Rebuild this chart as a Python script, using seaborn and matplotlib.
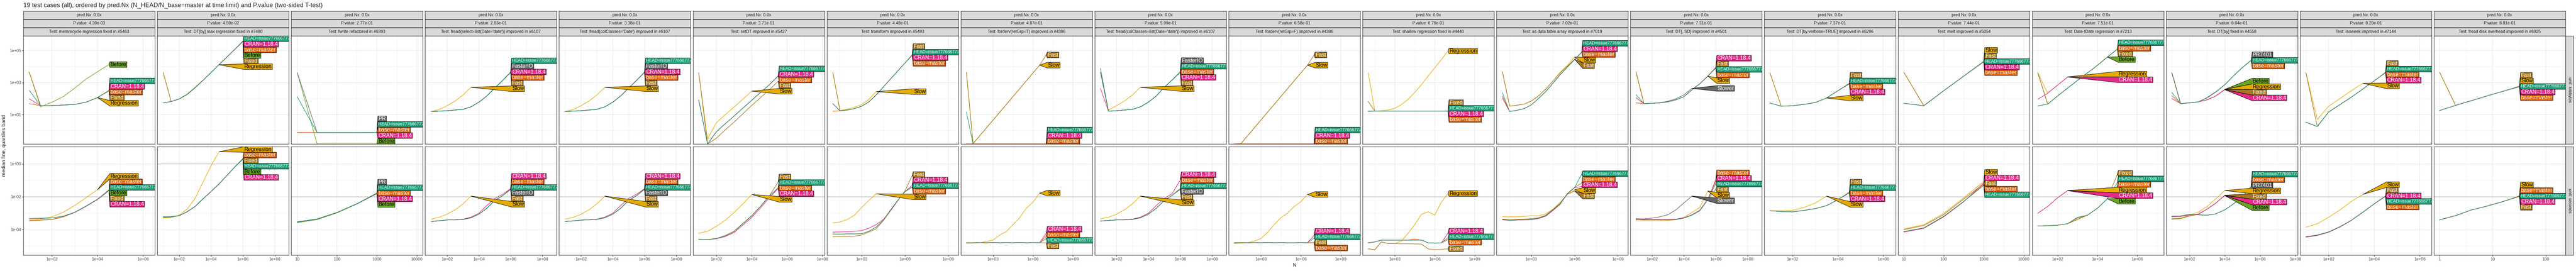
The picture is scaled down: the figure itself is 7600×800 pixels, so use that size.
import math

import matplotlib
matplotlib.use("Agg")
import matplotlib.pyplot as plt
from matplotlib.patches import Polygon
import pandas as pd
import seaborn as sns

ZERO = -math.inf  # log10 of a 0 kB measurement (drawn on the panel edge, like -Inf in ggplot)

H = "HEAD=issue777666777"
B = "base=master"
C = "CRAN=1.18.4"

N_HALF = [1e1, 3.16e1, 1e2, 3.16e2, 1e3, 3.16e3, 1e4, 3.16e4, 1e5, 3.16e5, 1e6, 3.16e6, 1e7]
N_DISK = [1, 2, 4, 8, 16, 32]

tests = [
    "memrecycle regression fixed in #5463",
    "DT[by] max regression fixed in #7480",
    "fwrite refactored in #6393",
    "fread(select=list(Date='date')) improved in #6107",
    "fread(colClasses='Date') improved in #6107",
    "setDT improved in #5427",
    "transform improved in #5493",
    "forderv(retGrp=T) improved in #4386",
    "fread(colClasses=list(Date='date')) improved in #6107",
    "forderv(retGrp=F) improved in #4386",
    "shallow regression fixed in #4440",
    "as.data.table.array improved in #7019",
    "DT[,.SD] improved in #4501",
    "DT[by,verbose=TRUE] improved in #6296",
    "melt improved in #5054",
    "Date-IDate regression in #7213",
    "DT[by] fixed in #4558",
    "isoweek improved in #7144",
    "fread disk overhead improved in #6925",
]
p_values = [4.39e-03, 4.59e-02, 2.77e-01, 2.83e-01, 3.38e-01, 3.71e-01, 4.48e-01,
            4.87e-01, 5.99e-01, 6.58e-01, 6.76e-01, 7.02e-01, 7.31e-01, 7.37e-01,
            7.44e-01, 7.51e-01, 8.04e-01, 8.20e-01, 8.81e-01]
pred_nx = [0.0] * 19
seconds_limit = [0.01, 1.0] + [0.01] * 17

# median values, log10(kilobytes) and log10(seconds), one entry per N
p01_kb = {
    "Before": [3.65, 1.48, 1.77, 2.12, 2.65, 3.22, 3.67, 4.12],
    "Regression": [3.65, 1.54, 1.56, 1.59, 1.63, 1.77, 2.06],
    "Fixed": [3.65, 1.55, 1.56, 1.59, 1.63, 1.77, 2.06, 2.47],
    B: [1.68, 1.55, 1.56, 1.59, 1.63, 1.77, 2.06, 2.48],
    C: [1.98, 1.55, 1.56, 1.59, 1.63, 1.77, 2.06, 2.49],
    H: [2.51, 1.55, 1.56, 1.59, 1.63, 1.77, 2.06, 2.50],
}
p01_sec = {
    "Before": [-3.46, -3.42, -3.38, -3.22, -2.95, -2.56, -2.15, -1.61],
    "Regression": [-3.39, -3.35, -3.22, -2.94, -2.53, -2.05, -1.57],
    "Fixed": [-3.46, -3.42, -3.38, -3.22, -2.95, -2.57, -2.16, -1.62],
    B: [-3.46, -3.42, -3.38, -3.22, -2.95, -2.57, -2.15, -1.58],
    C: [-3.32, -3.31, -3.29, -3.18, -2.96, -2.58, -2.17, -1.63],
    H: [-3.32, -3.31, -3.29, -3.18, -2.94, -2.56, -2.15, -1.60],
}
p02_kb = {
    "Regression": [3.62, 1.81, 1.97, 2.25, 2.67, 3.14, 3.62, 4.11],
    "Fixed": [3.62, 1.81, 1.97, 2.25, 2.67, 3.14, 3.62, 4.11, 4.59, 5.08, 5.55],
    "Before": [1.73, 1.81, 1.98, 2.27, 2.70, 3.15, 3.62, 4.11, 4.59, 5.08, 5.56],
    B: [1.73, 1.81, 1.97, 2.25, 2.67, 3.14, 3.62, 4.11, 4.59, 5.08, 5.57],
    C: [1.73, 1.81, 1.97, 2.25, 2.67, 3.14, 3.62, 4.11, 4.59, 5.08, 5.58],
    H: [1.73, 1.81, 1.97, 2.25, 2.67, 3.14, 3.62, 4.11, 4.59, 5.08, 5.59],
}
p02_sec = {
    "Regression": [-3.30, -3.26, -3.12, -2.75, -2.10, -1.11, -0.12, 0.74],
    "Before": [-3.26, -3.24, -3.16, -2.91, -2.59, -2.12, -1.68, -1.22, -0.70, -0.17, 0.29],
    "Fixed": [-3.24, -3.22, -3.15, -2.91, -2.59, -2.12, -1.68, -1.22, -0.70, -0.17, 0.31],
    B: [-3.22, -3.21, -3.15, -2.91, -2.59, -2.12, -1.68, -1.22, -0.70, -0.17, 0.33],
    C: [-3.22, -3.21, -3.15, -2.92, -2.60, -2.13, -1.69, -1.23, -0.71, -0.18, 0.28],
    H: [-3.22, -3.21, -3.15, -2.91, -2.59, -2.12, -1.68, -1.22, -0.70, -0.17, 0.30],
}
p03_kb = {
    "Before": [3.62, ZERO, ZERO, ZERO, ZERO],
    C: [-0.13, -0.13, -0.13, -0.13, -0.127],
    B: [-0.13, -0.13, -0.13, -0.13, -0.126],
    "PR": [3.62, -0.13, -0.13, -0.13, -0.124],
    H: [2.11, -0.13, -0.13, -0.13, -0.125],
}
p03_sec = {
    "Before": [-3.58, -3.39, -2.98, -2.44, -1.81],
    C: [-3.54, -3.36, -2.96, -2.43, -1.80],
    B: [-3.54, -3.36, -2.96, -2.43, -1.79],
    "PR": [-3.52, -3.35, -2.95, -2.42, -1.77],
    H: [-3.54, -3.36, -2.96, -2.43, -1.78],
}
p04_kb = {
    "Slow": [1.19, 1.32, 1.55, 1.84, 2.22, 2.70],
    "Fast": [1.19, 1.21, 1.24, 1.28, 1.32, 1.48, 1.77, 2.16, 2.65, 3.13, 3.62],
    B: [1.19, 1.21, 1.24, 1.28, 1.32, 1.48, 1.77, 2.16, 2.65, 3.13, 3.63],
    C: [1.19, 1.21, 1.24, 1.28, 1.32, 1.48, 1.77, 2.16, 2.65, 3.13, 3.64],
    "FasterIO": [1.19, 1.21, 1.24, 1.28, 1.32, 1.48, 1.77, 2.16, 2.65, 3.13, 3.65],
    H: [1.19, 1.21, 1.24, 1.28, 1.32, 1.48, 1.77, 2.16, 2.65, 3.13, 3.66],
}
p04_sec = {
    "Slow": [-3.36, -3.25, -3.06, -2.80, -2.43, -1.96],
    "Fast": [-3.51, -3.46, -3.41, -3.40, -3.38, -3.28, -3.06, -2.70, -2.22, -1.93, -1.56],
    "FasterIO": [-3.51, -3.46, -3.41, -3.40, -3.38, -3.28, -3.06, -2.70, -2.22, -1.93, -1.55],
    B: [-3.51, -3.46, -3.41, -3.40, -3.38, -3.28, -3.06, -2.70, -2.22, -1.93, -1.52],
    C: [-3.51, -3.46, -3.41, -3.40, -3.36, -3.24, -3.00, -2.53, -2.10, -1.85, -1.50],
    H: [-3.51, -3.46, -3.41, -3.40, -3.38, -3.28, -3.06, -2.70, -2.22, -1.93, -1.54],
}
p05_kb = {
    "Slow": [1.19, 1.31, 1.55, 1.84, 2.22, 2.70],
    "Fast": [1.19, 1.21, 1.24, 1.28, 1.32, 1.48, 1.77, 2.16, 2.65, 3.13, 3.62],
    B: [1.19, 1.21, 1.24, 1.28, 1.32, 1.48, 1.77, 2.16, 2.65, 3.13, 3.63],
    C: [1.19, 1.21, 1.24, 1.28, 1.32, 1.48, 1.77, 2.16, 2.65, 3.13, 3.64],
    "FasterIO": [1.19, 1.21, 1.24, 1.28, 1.32, 1.48, 1.77, 2.16, 2.65, 3.13, 3.65],
    H: [1.19, 1.21, 1.24, 1.28, 1.32, 1.48, 1.77, 2.16, 2.65, 3.13, 3.66],
}
p05_sec = {
    "Slow": [-3.36, -3.26, -3.07, -2.80, -2.43, -1.96],
    "Fast": [-3.51, -3.47, -3.42, -3.40, -3.38, -3.28, -3.06, -2.70, -2.22, -1.93, -1.56],
    "FasterIO": [-3.51, -3.47, -3.42, -3.40, -3.38, -3.28, -3.06, -2.70, -2.22, -1.93, -1.55],
    B: [-3.51, -3.47, -3.42, -3.40, -3.38, -3.28, -3.06, -2.70, -2.22, -1.93, -1.52],
    C: [-3.51, -3.47, -3.42, -3.40, -3.36, -3.24, -3.00, -2.53, -2.10, -1.85, -1.50],
    H: [-3.51, -3.47, -3.42, -3.40, -3.38, -3.28, -3.06, -2.70, -2.22, -1.93, -1.54],
}
p06_kb = {
    "Slow": [3.62, -0.53, 0.50, 0.98, 1.47, 1.96, 2.46],
    "Fast": [3.62, ZERO, -0.48, 0.04, 0.52, 1.05, 1.57, 2.06, 2.55, 3.08],
    B: [1.91, ZERO, -0.07, 0.42, 0.90, 1.40, 1.89, 2.38, 2.86, 3.40],
    C: [1.91, ZERO, -0.07, 0.42, 0.90, 1.40, 1.89, 2.38, 2.86, 3.41],
    H: [1.91, ZERO, -0.07, 0.42, 0.90, 1.40, 1.89, 2.38, 2.86, 3.42],
}
p06_sec = {
    "Slow": [-4.22, -4.10, -3.80, -3.43, -2.96, -2.43, -1.86],
    "Fast": [-4.59, -4.60, -4.54, -4.36, -4.10, -3.62, -3.15, -2.57, -1.94, -1.10],
    C: [-4.59, -4.61, -4.56, -4.42, -4.18, -3.72, -3.26, -2.68, -2.05, -1.50],
    B: [-4.59, -4.61, -4.54, -4.38, -4.12, -3.64, -3.17, -2.59, -1.96, -1.47],
    H: [-4.59, -4.61, -4.54, -4.38, -4.12, -3.64, -3.17, -2.59, -1.96, -1.45],
}
p07_kb = {
    "Slow": [3.64, 1.25, 1.33, 1.46, 1.62, 1.95, 2.43],
    "Fast": [3.64, 1.23, 1.28, 1.37, 1.52, 1.79, 2.22, 2.72, 3.22, 3.72, 4.22, 4.74],
    B: [1.20, 1.23, 1.28, 1.37, 1.52, 1.79, 2.22, 2.72, 3.22, 3.72, 4.22, 4.70],
    C: [1.68, 1.23, 1.28, 1.37, 1.52, 1.79, 2.22, 2.72, 3.22, 3.72, 4.22, 4.71],
    H: [1.68, 1.23, 1.28, 1.37, 1.52, 1.79, 2.22, 2.72, 3.22, 3.72, 4.22, 4.73],
}
p07_sec = {
    "Slow": [-3.59, -3.54, -3.38, -3.12, -2.65, -2.22, -1.82],
    "Fast": [-4.43, -4.43, -4.43, -4.40, -4.33, -4.15, -3.95, -3.45, -2.85, -2.25, -1.64, -0.70],
    C: [-4.15, -4.14, -4.13, -4.10, -4.06, -3.91, -3.70, -3.38, -2.85, -2.22, -1.69, -1.30],
    B: [-4.27, -4.27, -4.26, -4.26, -4.25, -4.10, -3.85, -3.43, -2.80, -2.22, -1.69, -1.42],
    H: [-4.27, -4.27, -4.26, -4.26, -4.25, -4.10, -3.85, -3.43, -2.80, -2.22, -1.69, -1.40],
}
p08_kb = {
    "Slow": [3.64, -0.82, -0.33, 0.16, 0.65, 1.14, 1.63, 2.12, 2.61, 3.10, 3.59, 4.08],
    "Fast": [3.64, -0.82, -0.33, 0.16, 0.65, 1.14, 1.63, 2.12, 2.61, 3.10, 3.59, 4.08, 4.72],
    H: [1.16, ZERO, ZERO, ZERO, ZERO, ZERO, ZERO, ZERO, ZERO, ZERO, ZERO, ZERO, ZERO],
    C: [ZERO, ZERO, ZERO, ZERO, ZERO, ZERO, ZERO, ZERO, ZERO, ZERO, ZERO, ZERO, ZERO],
    B: [ZERO, ZERO, ZERO, ZERO, ZERO, ZERO, ZERO, ZERO, ZERO, ZERO, ZERO, ZERO, ZERO],
}
p08_sec = {
    "Slow": [-4.83, -4.82, -4.80, -4.72, -4.64, -4.33, -4.12, -3.70, -3.28, -2.70, -2.33, -1.78],
    "Fast": [-4.80, -4.80, -4.79, -4.80, -4.78, -4.80, -4.79, -4.80, -4.78, -4.80, -4.79, -4.80, -4.80],
    B: [-4.80, -4.80, -4.79, -4.80, -4.78, -4.80, -4.79, -4.80, -4.78, -4.80, -4.79, -4.80, -4.38],
    C: [-4.80, -4.80, -4.79, -4.80, -4.78, -4.80, -4.79, -4.80, -4.78, -4.80, -4.79, -4.80, -4.22],
    H: [-4.80, -4.80, -4.79, -4.80, -4.78, -4.80, -4.79, -4.80, -4.78, -4.80, -4.79, -4.80, -4.54],
}
p09_kb = {
    "Slow": [3.64, 1.28, 1.55, 1.84, 2.22, 2.70],
    "Fast": [3.64, 1.21, 1.24, 1.28, 1.32, 1.48, 1.77, 2.16, 2.70, 3.16, 3.63],
    C: [2.63, 1.21, 1.24, 1.28, 1.32, 1.48, 1.77, 2.16, 2.70, 3.16, 3.64],
    B: [3.64, 1.21, 1.24, 1.28, 1.32, 1.48, 1.77, 2.16, 2.70, 3.16, 3.65],
    "FasterIO": [3.87, 1.21, 1.24, 1.28, 1.32, 1.48, 1.77, 2.16, 2.70, 3.16, 3.67],
    H: [3.64, 1.21, 1.24, 1.28, 1.32, 1.48, 1.77, 2.16, 2.70, 3.16, 3.66],
}
p09_sec = {
    "Slow": [-3.34, -3.25, -3.06, -2.80, -2.43, -1.96],
    "Fast": [-3.48, -3.44, -3.41, -3.40, -3.38, -3.28, -3.06, -2.70, -2.22, -1.90, -1.56],
    "FasterIO": [-3.48, -3.44, -3.41, -3.40, -3.38, -3.28, -3.06, -2.70, -2.22, -1.90, -1.54],
    B: [-3.48, -3.44, -3.41, -3.40, -3.38, -3.28, -3.06, -2.70, -2.22, -1.90, -1.50],
    C: [-3.48, -3.44, -3.41, -3.39, -3.36, -3.24, -3.00, -2.53, -2.10, -1.80, -0.98],
    H: [-3.48, -3.44, -3.41, -3.40, -3.38, -3.28, -3.06, -2.70, -2.22, -1.90, -1.52],
}
p10_kb = {
    "Slow": [ZERO, -0.82, -0.33, 0.16, 0.65, 1.14, 1.63, 2.12, 2.61, 3.10, 3.59, 4.08],
    "Fast": [ZERO, -0.82, -0.33, 0.16, 0.65, 1.14, 1.63, 2.12, 2.61, 3.10, 3.59, 4.08, 4.72],
    H: [ZERO, ZERO, ZERO, ZERO, ZERO, ZERO, ZERO, ZERO, ZERO, ZERO, ZERO, ZERO, ZERO],
    C: [ZERO, ZERO, ZERO, ZERO, ZERO, ZERO, ZERO, ZERO, ZERO, ZERO, ZERO, ZERO, ZERO],
    B: [ZERO, ZERO, ZERO, ZERO, ZERO, ZERO, ZERO, ZERO, ZERO, ZERO, ZERO, ZERO, ZERO],
}
p10_sec = {
    "Slow": [-4.85, -4.83, -4.80, -4.70, -4.54, -4.17, -3.70, -3.28, -3.00, -2.60, -2.30, -1.86],
    "Fast": [-4.80, -4.79, -4.80, -4.79, -4.80, -4.78, -4.80, -4.79, -4.80, -4.80, -4.79, -4.80, -4.79],
    B: [-4.80, -4.79, -4.80, -4.79, -4.80, -4.78, -4.80, -4.79, -4.80, -4.80, -4.79, -4.80, -4.80],
    C: [-4.80, -4.79, -4.80, -4.79, -4.80, -4.78, -4.80, -4.79, -4.80, -4.80, -4.79, -4.80, -4.35],
    H: [-4.80, -4.79, -4.80, -4.79, -4.80, -4.78, -4.80, -4.79, -4.80, -4.80, -4.79, -4.80, -4.51],
}
p11_kb = {
    "Regression": [3.62, 1.21, 1.24, 1.28, 1.39, 1.62, 1.95, 2.38, 2.86, 3.40, 3.92, 4.43, 4.97],
    "Fixed": [1.82, 1.21, 1.21, 1.21, 1.21, 1.21, 1.21, 1.21, 1.21, 1.21, 1.21, 1.21, 1.23],
    B: [1.19, 1.21, 1.21, 1.21, 1.21, 1.21, 1.21, 1.21, 1.21, 1.21, 1.21, 1.21, 1.20],
    C: [1.21, 1.21, 1.21, 1.21, 1.21, 1.21, 1.21, 1.21, 1.21, 1.21, 1.21, 1.21, 1.21],
    H: [1.21, 1.21, 1.21, 1.21, 1.21, 1.21, 1.21, 1.21, 1.21, 1.21, 1.21, 1.21, 1.22],
}
p11_sec = {
    "Regression": [-5.17, -5.22, -4.75, -4.85, -4.85, -4.70, -4.22, -3.70, -3.07, -2.91, -3.12, -2.33, -1.80],
    "Fixed": [-5.17, -5.22, -4.75, -4.85, -4.85, -4.86, -4.86, -4.87, -4.88, -5.17, -5.22, -5.20, -5.17],
    B: [-4.80, -4.75, -4.64, -4.64, -4.64, -4.64, -4.64, -4.58, -4.64, -4.80, -4.82, -4.81, -4.60],
    C: [-4.80, -4.75, -4.64, -4.64, -4.64, -4.64, -4.64, -4.64, -4.64, -4.80, -4.82, -4.81, -4.20],
    H: [-4.80, -4.75, -4.64, -4.64, -4.64, -4.64, -4.64, -4.64, -4.64, -4.80, -4.82, -4.81, -4.50],
}
p12_kb = {
    "Slow": [3.67, 1.52, 1.58, 1.65, 1.84, 2.16, 2.59, 3.08, 3.64, 4.07, 4.59],
    "Fast": [3.67, 1.52, 1.58, 1.65, 1.84, 2.16, 2.59, 3.08, 3.60, 4.02, 4.45],
    B: [2.02, 1.19, 1.26, 1.37, 1.60, 2.00, 2.43, 2.95, 3.49, 3.96, 4.43, 4.89],
    C: [2.15, 1.19, 1.26, 1.37, 1.60, 2.00, 2.43, 2.95, 3.49, 3.96, 4.43, 4.90],
    H: [2.36, 1.19, 1.26, 1.37, 1.60, 2.00, 2.43, 2.95, 3.49, 3.96, 4.43, 4.91],
}
p12_sec = {
    "Slow": [-3.22, -3.22, -3.22, -3.20, -3.15, -3.16, -3.04, -2.75, -2.33, -1.86, -1.57],
    "Fast": [-3.36, -3.38, -3.37, -3.36, -3.33, -3.28, -3.12, -2.78, -2.40, -1.85, -1.65],
    C: [-3.40, -3.45, -3.42, -3.41, -3.40, -3.33, -3.18, -2.84, -2.46, -1.82, -1.45, -1.37],
    B: [-3.38, -3.44, -3.41, -3.40, -3.38, -3.31, -3.15, -2.80, -2.43, -1.80, -1.43, -1.17],
    H: [-3.38, -3.44, -3.41, -3.40, -3.38, -3.31, -3.15, -2.80, -2.43, -1.80, -1.43, -0.62],
}
p13_kb = {
    "Slower": [3.67, 1.68, 1.70, 1.74, 1.83, 1.98, 2.22, 2.63],
    "Slow": [3.67, 1.68, 1.70, 1.73, 1.79, 1.92, 2.11, 2.54, 2.92, 3.40],
    "Fast": [3.67, 1.68, 1.70, 1.73, 1.79, 1.92, 2.11, 2.54, 2.92, 3.40, 3.93],
    B: [1.73, 1.68, 1.70, 1.73, 1.79, 1.92, 2.11, 2.54, 2.92, 3.40, 3.90],
    C: [2.05, 1.68, 1.70, 1.73, 1.79, 1.92, 2.11, 2.54, 2.92, 3.40, 3.94],
    H: [2.24, 1.68, 1.70, 1.73, 1.79, 1.92, 2.11, 2.54, 2.92, 3.40, 3.91],
}
p13_sec = {
    "Slower": [-3.33, -3.35, -3.30, -3.22, -3.09, -2.80, -2.38, -1.96],
    "Slow": [-3.46, -3.46, -3.46, -3.46, -3.45, -3.40, -3.25, -2.96, -2.65, -1.65],
    "Fast": [-3.38, -3.40, -3.40, -3.40, -3.40, -3.38, -3.30, -3.12, -2.85, -2.17, -1.54],
    B: [-3.38, -3.40, -3.40, -3.40, -3.40, -3.38, -3.30, -3.12, -2.85, -2.17, -0.95],
    C: [-3.36, -3.38, -3.38, -3.38, -3.38, -3.36, -3.28, -3.10, -2.82, -2.14, -1.05],
    H: [-3.38, -3.40, -3.40, -3.40, -3.40, -3.38, -3.30, -3.12, -2.85, -2.17, -1.20],
}
p14_kb = {
    "Slow": [3.62, 1.52, 1.55, 1.63, 1.75, 2.03],
    "Fast": [3.62, 1.52, 1.55, 1.63, 1.75, 2.03, 2.49, 2.95],
    C: [1.72, 1.52, 1.55, 1.63, 1.75, 2.03, 2.49, 2.91],
    B: [1.72, 1.52, 1.55, 1.63, 1.75, 2.03, 2.49, 2.92],
    H: [1.72, 1.52, 1.55, 1.63, 1.75, 2.03, 2.49, 2.93],
}
p14_sec = {
    "Slow": [-2.85, -2.85, -2.83, -2.65, -2.38, -1.96],
    "Fast": [-2.85, -2.90, -2.92, -2.83, -2.72, -2.54, -2.17, -1.72],
    C: [-2.85, -2.90, -2.92, -2.83, -2.72, -2.54, -2.17, -1.77],
    B: [-2.85, -2.90, -2.92, -2.83, -2.72, -2.54, -2.17, -1.75],
    H: [-2.85, -2.90, -2.92, -2.83, -2.72, -2.54, -2.17, -1.74],
}
p15_kb = {
    "Slow": [3.64, 1.55, 2.49, 3.40, 4.33],
    "Fast": [3.64, 1.55, 2.49, 3.40, 4.32],
    B: [1.70, 1.55, 2.49, 3.40, 4.29],
    C: [1.70, 1.55, 2.49, 3.40, 4.30],
    H: [1.70, 1.55, 2.49, 3.40, 4.31],
}
p15_sec = {
    "Slow": [-3.96, -3.70, -3.01, -2.06, -1.07],
    "Fast": [-4.00, -3.75, -3.08, -2.13, -1.20],
    C: [-4.15, -3.92, -3.22, -2.30, -1.15],
    B: [-4.12, -3.89, -3.19, -2.28, -1.25],
    H: [-4.12, -3.89, -3.19, -2.28, -1.30],
}
p16_kb = {
    "Regression": [3.62, 2.33, 2.84, 3.35],
    C: [1.95, 2.33, 2.84, 3.34],
    "Before": [3.62, 1.65, 2.16, 2.65, 3.13, 3.60, 4.07, 4.59],
    "Fixed": [3.62, 1.65, 2.16, 2.65, 3.13, 3.60, 4.07, 4.59, 5.07],
    B: [1.54, 1.65, 2.16, 2.65, 3.13, 3.60, 4.07, 4.59, 5.08],
    H: [1.54, 1.65, 2.16, 2.65, 3.13, 3.60, 4.07, 4.59, 5.09],
}
p16_sec = {
    "Regression": [-3.01, -2.59, -2.06, -1.62],
    C: [-3.01, -2.59, -2.06, -1.63],
    "Before": [-3.78, -3.76, -3.73, -3.64, -3.38, -3.12, -2.70, -2.12],
    "Fixed": [-3.78, -3.76, -3.73, -3.64, -3.38, -3.12, -2.70, -2.12, -0.64],
    B: [-3.78, -3.76, -3.73, -3.64, -3.30, -3.12, -2.70, -2.12, -1.36],
    H: [-3.78, -3.76, -3.73, -3.64, -3.25, -3.12, -2.70, -2.12, -1.15],
}
p17_kb = {
    "Regression": [3.62, 1.68, 1.73, 1.79, 1.92, 2.16, 2.565],
    "Before": [3.62, 1.68, 1.73, 1.79, 1.92, 2.16, 2.57],
    "Fixed": [3.62, 1.68, 1.73, 1.79, 1.92, 2.16, 2.56],
    C: [2.00, 1.68, 1.73, 1.79, 1.92, 2.16, 2.55],
    "PR7401": [3.62, 1.68, 1.73, 1.79, 2.06, 2.43, 2.86, 3.42, 3.94, 4.39],
    B: [2.17, 1.68, 1.73, 1.79, 2.04, 2.41, 2.85, 3.41, 3.93, 4.37],
    H: [2.38, 1.68, 1.73, 1.79, 2.04, 2.41, 2.85, 3.41, 3.93, 4.38],
}
p17_sec = {
    "Regression": [-3.33, -3.30, -3.12, -2.94, -2.59, -2.12, -1.62],
    "Before": [-3.36, -3.33, -3.17, -3.07, -2.75, -2.38, -1.93],
    "Fixed": [-3.36, -3.33, -3.17, -3.07, -2.75, -2.38, -1.91],
    C: [-3.22, -3.20, -3.12, -3.05, -2.75, -2.38, -1.92],
    "PR7401": [-3.19, -3.17, -3.07, -3.10, -3.12, -3.04, -2.80, -2.43, -2.01, -1.39],
    B: [-3.19, -3.17, -3.07, -3.10, -3.12, -3.04, -2.80, -2.43, -2.01, -1.37],
    H: [-3.19, -3.17, -3.07, -3.10, -3.12, -3.04, -2.80, -2.43, -2.01, -1.36],
}
p18_kb = {
    "Slow": [3.62, 0.69, 1.52, 2.00, 2.49, 2.95],
    "Fast": [3.62, 0.25, 1.16, 1.62, 2.09, 2.59, 3.10, 3.64],
    C: [0.52, 0.25, 1.16, 1.62, 2.09, 2.59, 3.10, 3.61],
    B: [0.52, 0.25, 1.16, 1.62, 2.09, 2.59, 3.10, 3.62],
    H: [0.52, 0.25, 1.16, 1.62, 2.09, 2.59, 3.10, 3.63],
}
p18_sec = {
    "Slow": [-3.86, -3.64, -3.25, -2.80, -2.28, -1.86],
    "Fast": [-4.43, -4.33, -4.14, -3.82, -3.43, -2.94, -2.43, -1.95],
    C: [-4.46, -4.36, -4.16, -3.84, -3.44, -2.95, -2.44, -1.96],
    B: [-4.43, -4.33, -4.14, -3.82, -3.43, -2.94, -2.43, -1.98],
    H: [-4.43, -4.33, -4.14, -3.82, -3.43, -2.94, -2.43, -1.97],
}
p19_kb = {
    "Slow": [3.64, 1.57, 1.87, 2.17, 2.46, 2.76],
    "Fast": [3.64, 1.57, 1.87, 2.17, 2.46, 2.77],
    B: [1.25, 1.57, 1.87, 2.17, 2.46, 2.73],
    C: [1.25, 1.57, 1.87, 2.17, 2.46, 2.74],
    H: [1.25, 1.57, 1.87, 2.17, 2.46, 2.75],
}
p19_sec = {
    "Slow": [-3.40, -3.15, -2.80, -2.56, -2.28, -1.94],
    "Fast": [-3.40, -3.15, -2.80, -2.56, -2.28, -1.98],
    C: [-3.40, -3.15, -2.80, -2.56, -2.28, -1.97],
    B: [-3.40, -3.15, -2.80, -2.56, -2.28, -1.95],
    H: [-3.40, -3.15, -2.80, -2.56, -2.28, -1.96],
}

panel_N = [N_HALF] * 18 + [N_DISK]
panel_kb = [p01_kb, p02_kb, p03_kb, p04_kb, p05_kb, p06_kb, p07_kb, p08_kb, p09_kb, p10_kb,
            p11_kb, p12_kb, p13_kb, p14_kb, p15_kb, p16_kb, p17_kb, p18_kb, p19_kb]
panel_sec = [p01_sec, p02_sec, p03_sec, p04_sec, p05_sec, p06_sec, p07_sec, p08_sec, p09_sec, p10_sec,
             p11_sec, p12_sec, p13_sec, p14_sec, p15_sec, p16_sec, p17_sec, p18_sec, p19_sec]

# free x scales: log10 limits and decade step of the breaks
x_limits = [(0.743, 6.52), (0.63, 8.88), (0.85, 4.15), (0.61, 8.9), (0.62, 8.9), (0.674, 8.12),
            (0.59, 9.70), (0.58, 10.46), (0.64, 8.88), (0.58, 10.46), (0.58, 10.46), (0.59, 9.70),
            (0.65, 8.89), (0.755, 6.55), (0.86, 4.15), (0.72, 7.33), (0.675, 8.13), (0.74, 6.52),
            (-0.107, 2.37)]
x_step = [2, 2, 1, 2, 2, 2, 3, 3, 2, 3, 3, 3, 2, 2, 1, 2, 2, 2, 1]
y_limits = [(-0.84, 5.91), (-5.55, 1.05)]
y_major = [[1, 3, 5], [-4, -2, 0]]
y_minor = [[0, 2, 4], [-5, -3, -1]]
units = ["unit: kilobytes", "unit: seconds"]

expr_colors = {
    H: "#1B9E77", B: "#D95F02", C: "#E7298A",
    "Before": "#66A61E", "Regression": "#E6AB02", "Slow": "#E6AB02",
    "Fixed": "#A6761D", "Fast": "#A6761D",
    "PR": "#666666", "FasterIO": "#666666", "Slower": "#666666", "PR7401": "#666666",
}
dark_text = {"Before", "Regression", "Slow"}

W, HGT = 7600, 800
LABEL_H = 16.5
GRID = "#EBEBEB"
EDGE = "#333333"


def sci(e):
    return f"1e{e:+03d}"


def stack(targets, h, lo, hi):
    # qp-like stacking: keep order, min spacing h, closest to targets
    blocks = []
    for i, t in enumerate(targets):
        blocks.append([t + i * h, 1])
        while len(blocks) > 1 and blocks[-2][0] / blocks[-2][1] < blocks[-1][0] / blocks[-1][1]:
            s, c = blocks.pop()
            blocks[-1][0] += s
            blocks[-1][1] += c
    u = []
    for s, c in blocks:
        u += [s / c] * c
    y = [u[i] - i * h for i in range(len(u))]
    y[0] = min(y[0], hi)
    for i in range(1, len(y)):
        y[i] = min(y[i], y[i - 1] - h)
    y[-1] = max(y[-1], lo)
    for i in range(len(y) - 2, -1, -1):
        y[i] = max(y[i], y[i + 1] + h)
    return y


def draw_labels(ax, ends, renderer):
    # ends: (expr, x, y, order) in data units
    pts = []
    for expr, x, y, k in ends:
        px, py = ax.transData.transform((x, y))
        pts.append((expr, px, py, k))
    x_box = max(p[1] for p in pts) + 3
    pts.sort(key=lambda p: (-round(p[2], 3), p[3]))
    bb = ax.bbox
    ys = stack([p[2] for p in pts], LABEL_H, bb.y0 + LABEL_H / 2, bb.y1 - LABEL_H / 2)
    inv = ax.transAxes.inverted()
    for (expr, tx, ty, _), yc in zip(pts, ys):
        size = 9 if expr == H else 11.5
        color = "black" if expr in dark_text else "white"
        tx0, ty0 = inv.transform((x_box + 1.5, yc))
        txt = ax.text(tx0, ty0, expr, transform=ax.transAxes, ha="left", va="center",
                      fontsize=size, color=color, clip_on=True, zorder=6)
        w = txt.get_window_extent(renderer).width
        xr = x_box + w + 3
        poly = [(tx, ty), (x_box, yc + LABEL_H / 2), (xr, yc + LABEL_H / 2),
                (xr, yc - LABEL_H / 2), (x_box, yc - LABEL_H / 2)]
        ax.add_patch(Polygon(inv.transform(poly), closed=True, transform=ax.transAxes,
                             facecolor=expr_colors[expr], edgecolor="black", linewidth=0.8,
                             zorder=5, clip_on=True))


def strip_box(fig, left, top, width, height, text, rotation=0):
    sax = fig.add_axes([left / W, 1 - (top + height) / HGT, width / W, height / HGT])
    sax.set_facecolor("#D9D9D9")
    sax.set_xticks([])
    sax.set_yticks([])
    for sp in sax.spines.values():
        sp.set_color(EDGE)
        sp.set_linewidth(1.0)
    sax.text(0.5, 0.5, text, ha="center", va="center", fontsize=8.8, color="#1A1A1A",
             rotation=rotation, transform=sax.transAxes)


def main():
    sns.set_theme(style="white")
    plt.rcParams["font.family"] = ["Liberation Sans", "DejaVu Sans"]

    fig = plt.figure(figsize=(W / 100, HGT / 100), dpi=100)
    renderer = fig.canvas.get_renderer()

    col_left = 69.0
    col_step = 395.1
    col_w = 388.0
    rows = [(106.0, 425.0), (433.0, 753.0)]

    fig.text(col_left / W, 1 - 16 / HGT,
             "19 test cases (all), ordered by pred.Nx (N_HEAD/N_base=master at time limit) "
             "and P.value (two-sided T-test)", fontsize=13.2, ha="left", va="center")
    fig.text(12 / W, 1 - (rows[0][0] + rows[1][1]) / 2 / HGT, "median line, quartiles band",
             rotation=90, fontsize=11, ha="center", va="center")
    fig.text((col_left + 18 * col_step + col_w + col_left) / 2 / W, 1 - 783 / HGT, "N",
             fontsize=11, ha="center", va="center")

    for i in range(19):
        left = col_left + i * col_step
        strip_box(fig, left, 33, col_w, 23.5, f"pred.Nx: {pred_nx[i]:.1f}x")
        strip_box(fig, left, 57.5, col_w, 23.5, f"P.value: {p_values[i]:.2e}")
        strip_box(fig, left, 82, col_w, 23.5, f"Test: {tests[i]}")

        lo, hi = x_limits[i]
        step = x_step[i]
        majors = [e for e in range(math.floor(lo), math.ceil(hi) + 1) if e % step == 0 and lo <= e <= hi]
        minors = [majors[0] - step / 2 + k * step for k in range(-1, len(majors) + 1)]
        minors = [m for m in minors if lo < m < hi]
        if step == 1:
            xlabels = [str(int(round(10 ** e))) for e in majors]
        else:
            xlabels = [sci(e) for e in majors]

        for r, (tables, (top_px, bot_px)) in enumerate(zip([panel_kb, panel_sec], rows)):
            ax = fig.add_axes([left / W, 1 - bot_px / HGT, col_w / W, (bot_px - top_px) / HGT])
            ylo, yhi = y_limits[r]
            table = tables[i]
            N = panel_N[i]
            recs = []
            for expr, vals in table.items():
                for n, v in zip(N, vals):
                    val = 10.0 ** v
                    recs.append((n, val if val > 0 else 10.0 ** ylo, expr))
            df = pd.DataFrame(recs, columns=["N", "value", "expr"])
            sns.lineplot(data=df, x="N", y="value", hue="expr", hue_order=list(table),
                         palette=expr_colors, estimator=None, sort=True, legend=False,
                         linewidth=1.1, ax=ax)
            if r == 1:
                ax.axhline(seconds_limit[i], color="#BEBEBE", linewidth=1.1, zorder=1.5)

            ax.set_xscale("log")
            ax.set_yscale("log")
            ax.set_xlim(10 ** lo, 10 ** hi)
            ax.set_ylim(10 ** ylo, 10 ** yhi)
            ax.set_xticks([10.0 ** e for e in majors], labels=xlabels)
            ax.set_xticks([10.0 ** m for m in minors], minor=True, labels=[""] * len(minors))
            ax.set_yticks([10.0 ** e for e in y_major[r]], labels=[sci(e) for e in y_major[r]])
            ax.set_yticks([10.0 ** e for e in y_minor[r]], minor=True, labels=[""] * len(y_minor[r]))
            ax.set_facecolor("white")
            ax.grid(which="major", color=GRID, linewidth=1.1)
            ax.grid(which="minor", color=GRID, linewidth=0.55)
            ax.set_axisbelow(True)
            ax.set_xlabel("")
            ax.set_ylabel("")
            for sp in ax.spines.values():
                sp.set_color(EDGE)
                sp.set_linewidth(1.0)
            ax.tick_params(which="major", length=2.75, width=1.0, color=EDGE, labelsize=8.8,
                           labelcolor="#4D4D4D", pad=2.2)
            ax.tick_params(which="minor", length=0)
            ax.tick_params(axis="x", bottom=(r == 1), labelbottom=(r == 1))
            ax.tick_params(axis="y", left=(i == 0), labelleft=(i == 0))

            ends = []
            for k, (expr, vals) in enumerate(table.items()):
                val = 10.0 ** vals[-1]
                ends.append((expr, N[len(vals) - 1], val if val > 0 else 10.0 ** ylo, k))
            draw_labels(ax, ends, renderer)

    right = col_left + 18 * col_step + col_w
    for r, (top_px, bot_px) in enumerate(rows):
        strip_box(fig, right, top_px, 23.5, bot_px - top_px, units[r], rotation=270)

    fig.savefig("out.png", dpi=100)
    plt.close(fig)


if __name__ == "__main__":
    main()
